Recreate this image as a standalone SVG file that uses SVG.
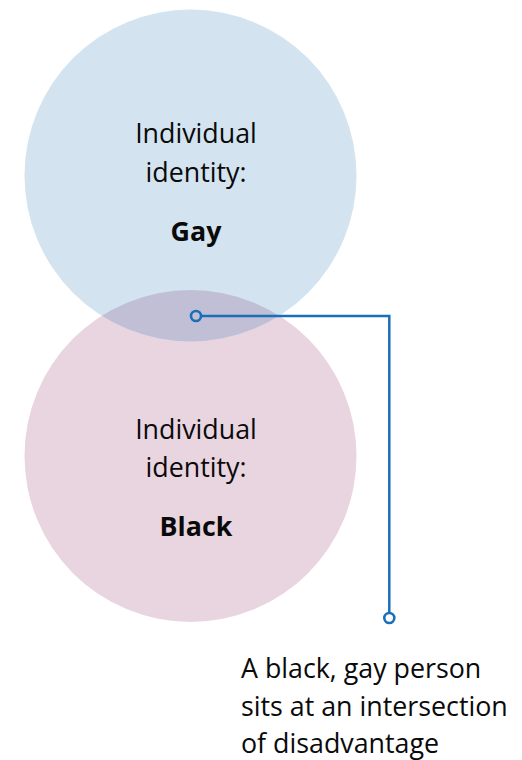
<svg xmlns="http://www.w3.org/2000/svg" width="522" height="760" viewBox="0 0 522 760">
  <style>
    .lbl { font-family: "Open Sans", "Noto Sans", "Liberation Sans", sans-serif; font-size: 26.8px; fill: #0a0a0a; text-anchor: middle; }
    .b { font-weight: bold; }
    .cap { font-family: "Open Sans", "Noto Sans", "Liberation Sans", sans-serif; font-size: 26.8px; fill: #0a0a0a; }
    .conn { fill: none; stroke: #1a70b8; stroke-width: 2.5; }
    .dot { fill: none; stroke: #1a70b8; stroke-width: 2.6; }
  </style>
  <defs>
    <clipPath id="clipTop">
      <circle cx="190.5" cy="175.5" r="166"/>
    </clipPath>
  </defs>
  <rect width="522" height="760" fill="#ffffff"/>
  <g id="node-black">
    <circle cx="190.5" cy="456" r="166" fill="#e8d5e0"/>
    <text class="lbl" x="196" y="439">Individual</text>
    <text class="lbl" x="196" y="477">identity:</text>
    <text class="lbl b" x="196" y="536">Black</text>
  </g>
  <g id="node-gay">
    <circle cx="190.5" cy="175.5" r="166" fill="#d3e4f0"/>
    <text class="lbl" x="196" y="143">Individual</text>
    <text class="lbl" x="196" y="182">identity:</text>
    <text class="lbl b" x="196" y="241">Gay</text>
  </g>
  <g id="node-overlap">
    <circle cx="190.5" cy="456" r="166" fill="#c1bfd5" clip-path="url(#clipTop)"/>
  </g>
  <g id="connectors">
    <polyline class="conn" points="201.2,316 389.3,316 389.3,612.8"/>
    <circle class="dot" cx="196" cy="316" r="5"/>
    <circle class="dot" cx="389.3" cy="618" r="5"/>
  </g>
  <g id="caption">
    <text class="cap" x="241" y="678">A black, gay person</text>
    <text class="cap" x="241" y="715.5">sits at an intersection</text>
    <text class="cap" x="241" y="753">of disadvantage</text>
  </g>
</svg>
